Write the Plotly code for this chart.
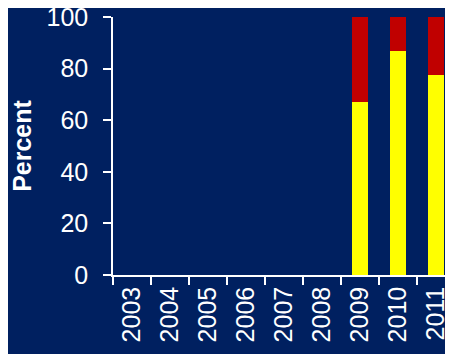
import plotly.graph_objects as go

years = ["2003", "2004", "2005", "2006", "2007", "2008", "2009", "2010", "2011"]
yellow_pct = [None, None, None, None, None, None, 67, 87, 77.5]
red_pct = [None, None, None, None, None, None, 33, 13, 22.5]

font = "Arial, Liberation Sans, sans-serif"
bg = "#002060"

fig = go.Figure()
fig.add_trace(go.Bar(x=years, y=yellow_pct, marker=dict(color="#FFFF00", line=dict(width=0))))
fig.add_trace(go.Bar(x=years, y=red_pct, marker=dict(color="#C00000", line=dict(width=0))))

# page body has an 8px margin, so the figure is shrunk and margins shifted to match
fig.update_layout(
    width=445, height=346,
    barmode="stack", bargap=0.6,
    showlegend=False,
    paper_bgcolor=bg, plot_bgcolor=bg,
    margin=dict(l=105, r=0, t=9, b=79),
    font=dict(family=font, size=25, color="white"),
)
fig.update_xaxes(
    type="category", range=[-0.5, 8.45], automargin=False,
    showline=True, linecolor="white", linewidth=1.5,
    ticks="outside", tickson="boundaries", ticklen=8, tickcolor="white", tickwidth=1.5,
    tickangle=-90, showgrid=False, zeroline=False,
    tickfont=dict(size=25, color="white"),
)
fig.update_yaxes(
    range=[0, 100], dtick=20, automargin=False,
    showline=True, linecolor="white", linewidth=1.5,
    ticks="outside", ticklen=8, tickcolor="white", tickwidth=1.5,
    ticklabelstandoff=10, ticklabeloverflow="allow",
    showgrid=False, zeroline=False,
    tickfont=dict(size=25, color="white"),
    title=dict(text="<b>Percent</b>", font=dict(size=25, color="white"), standoff=14),
)

fig.write_html("out.html")
